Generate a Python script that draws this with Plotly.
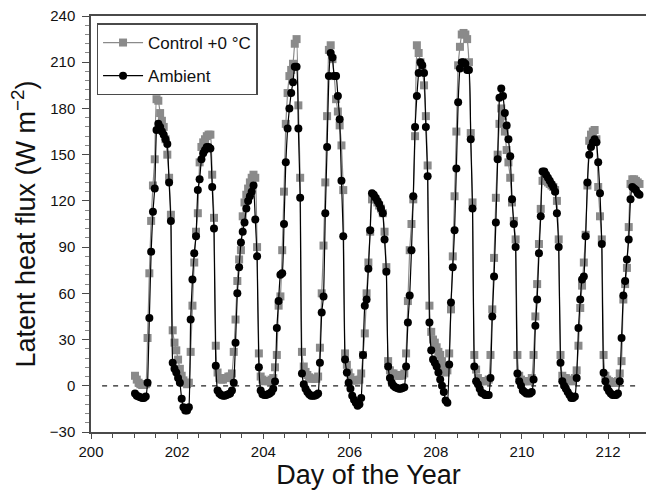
import numpy as np
import plotly.graph_objects as go

# Hourly latent heat flux (W m-2), one row per day of year, starting at 201.
first_day = 201
control_flux = [
    6.5, 4, 2, 1, 0.5, 0.5, 1, 31, 73, 107, 130, 147, 186, 185, 177, 172, 168, 160, 150, 135, 111, 36, 28, 23,   # 201
    17, 11, 6.5, 3.5, 2, 1, 2, 22, 52, 80, 100, 112, 145, 155, 158, 160, 162, 163, 163, 137, 109, 26, 8.6, 5,    # 202
    4, 4, 5, 5, 6, 6, 8, 22, 43, 68, 82, 88, 110, 119, 124, 128, 132, 135, 137, 135, 90, 21, 6, 4,               # 203
    3, 3, 3, 3, 4, 5, 12, 20, 52, 58, 88, 126, 170, 190, 201, 205, 209, 222, 225, 182, 135, 22, 12.5, 9,         # 204
    7, 5.5, 4.6, 4.6, 4.6, 4.6, 6, 24.7, 60, 91, 132, 175, 218, 221, 212, 201, 186, 178, 169, 156, 127, 21, 13.6, 8.5,  # 205
    5.5, 3.5, 3.5, 3.5, 3.5, 4, 8, 20, 34, 60, 80, 100, 121, 122, 121, 119, 117, 115, 112, 100, 77, 16, 10, 8,   # 206
    8, 7, 6.5, 6.5, 6.5, 7, 8, 21, 55, 88, 105, 121, 162, 221, 216, 210, 205, 195, 175, 143, 52, 35, 30, 28,     # 207
    25, 22, 20, 16, 12.5, 8.6, 10, 21, 49.6, 84, 123, 165, 208, 220, 228, 229, 228, 225, 210, 164, 119, 20, 10.5, 5,  # 208
    3, 3, 3, 3, 3, 4, 20, 49.6, 83, 122, 150, 170, 180, 175, 165, 153, 145, 135, 119, 107, 95, 20, 6.5, 4,      # 209
    3, 3, 3, 3, 3, 5, 20, 45, 66, 92, 114.8, 133, 134, 133, 132, 131, 130, 129, 127, 120, 95, 20, 6.5, 5,       # 210
    5, 4, 3, 3, 3, 5, 10, 26, 50.5, 65, 80, 98, 130, 159, 163, 165, 166, 160, 129, 110, 95, 20, 6.5, 4,         # 211
    3, 2.5, 2, 2, 2, 3, 8, 16, 56, 66, 76.5, 103, 131, 134, 134, 133, 132, 131,                                  # 212
]
ambient_flux = [
    -5, -6.5, -7, -7.5, -8, -8, -7, 2, 44, 87, 113, 128, 166, 170, 168, 165, 163, 160, 157, 132, 107, 15, 11, 8.6,   # 201
    5, 2, -8.5, -14, -16, -16, -14, 43, 69, 86, 97, 127, 134, 147, 151, 153, 155, 155, 154, 129, 102, 13, -3, -5,     # 202
    -6, -6.5, -6.5, -6, -5.5, -5, -3, 2, 28, 60, 77, 93, 100, 106, 115, 120, 123, 126, 130, 108, 84, 12, -3, -5.5,    # 203
    -6, -6, -5.5, -5, -4, -2, 2.8, 37.5, 55, 72, 73, 105, 145, 167, 180, 190, 197, 207, 207, 167, 122, 8, 1, -2,      # 204
    -4, -5.5, -6.5, -6.5, -6.5, -6, -5, 15, 47.5, 58, 112, 155, 201, 216, 213, 201, 201, 188, 173, 133, 97, 17, 8.6, 2,  # 205
    -2, -6.5, -9, -11, -13, -12, -8, 20, 52, 56, 76, 101, 125, 124, 122, 120, 118, 115, 112, 95, 74, 12.5, 5, 2,      # 206
    0, -1, -1.5, -2, -2, -1.5, -1, 12.5, 41, 58.6, 88, 123, 168, 188, 203, 210, 208, 203, 168, 136, 41, 23, 17, 15,   # 207
    12.5, 8.6, 4, 0, -4, -9.6, -11, 13.8, 54, 77, 101, 141, 184, 206, 210, 210, 209, 205, 205, 160, 115, 12.5, 3, 1,  # 208
    -2, -4.6, -5, -6, -6, -6, 5, 45, 71, 106, 147, 187, 193, 188, 177, 169, 160, 149, 121, 105, 90, 8, 3, 0,          # 209
    -3, -4, -5, -5, -5, -4, 4, 39, 56, 86, 110, 139, 139, 137, 135, 133, 131, 129, 126, 112, 90, 15, 3, 0,            # 210
    -2, -4, -6, -8, -8, -7, 5, 37.5, 56, 69, 71, 97, 132, 150, 155, 158, 160, 158, 145, 125, 92, 8.5, 3, -1.5,        # 211
    -3.6, -5, -6, -6, -6, -5, 3, 31, 58.6, 68, 82, 95, 121, 129, 128, 127, 125, 124,                                  # 212
]

# hourly averages, stamped at the middle of each hour
day_of_year = first_day + (np.arange(len(ambient_flux)) + 0.5) / 24.0

FONT = "Liberation Sans, Arial, Helvetica, sans-serif"
AXIS = "#4a4a4a"
TEXT = "#111111"

fig = go.Figure()
fig.add_trace(go.Scatter(
    x=day_of_year, y=control_flux, name="Control +0 °C", mode="lines+markers",
    line=dict(color="#8a8a8a", width=1.2, shape="spline", smoothing=0.4),
    marker=dict(symbol="square", size=8, color="#8a8a8a"),
    legendgroup="c",
))
fig.add_trace(go.Scatter(
    x=day_of_year, y=ambient_flux, name="Ambient", mode="lines+markers",
    line=dict(color="#000000", width=1.2, shape="spline", smoothing=0.4),
    marker=dict(symbol="circle", size=8, color="#000000"),
    legendgroup="a",
))

# zero reference
fig.add_shape(type="line", xref="paper", yref="y", x0=0.02, x1=0.99, y0=0, y1=0,
              line=dict(color="#222222", width=1.2, dash="5px,6px"), layer="below")

fig.update_layout(
    width=646, height=493,
    margin=dict(l=91, r=0, t=16, b=61),
    paper_bgcolor="white", plot_bgcolor="white",
    font=dict(family=FONT, color=TEXT),
    showlegend=True,
    legend=dict(
        x=0.01, y=0.982, xanchor="left", yanchor="top",
        bordercolor=AXIS, borderwidth=1.5, bgcolor="white",
        font=dict(size=17, family=FONT, color=TEXT),
        tracegroupgap=8, itemwidth=40,
    ),
    xaxis=dict(
        range=[200, 212.88], dtick=2, tick0=200,
        showline=True, linecolor=AXIS, linewidth=1.5, mirror=True,
        showgrid=False, zeroline=False,
        ticks="outside", ticklen=5, tickwidth=1, tickcolor=AXIS,
        tickfont=dict(size=15, family=FONT, color=TEXT),
        minor=dict(dtick=0.5, ticks="outside", ticklen=4, tickcolor=AXIS, showgrid=False),
        title=dict(text="Day of the Year", font=dict(size=27, family=FONT, color=TEXT), standoff=6),
    ),
    yaxis=dict(
        range=[-30, 240], dtick=30, tick0=0,
        showline=True, linecolor=AXIS, linewidth=1.5, mirror=False,
        showgrid=False, zeroline=False,
        ticks="outside", ticklen=7, tickwidth=1, tickcolor=AXIS,
        ticklabelstandoff=4,
        tickfont=dict(size=15, family=FONT, color=TEXT),
        minor=dict(dtick=6, ticks="outside", ticklen=4, tickcolor="#888888", showgrid=False),
        title=dict(text="Latent heat flux (W m<sup>−2</sup>)", font=dict(size=27, family=FONT, color=TEXT), standoff=6),
    ),
)

fig.write_html("out.html")
